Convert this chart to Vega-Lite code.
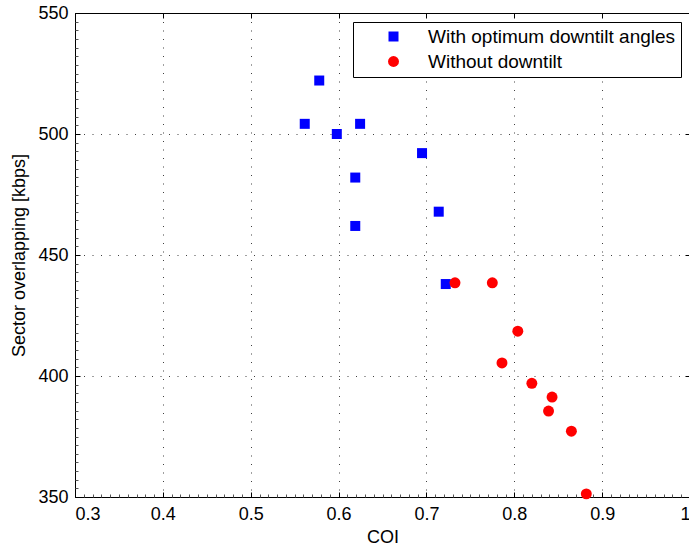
{
  "$schema": "https://vega.github.io/schema/vega-lite/v6.json",
  "width": 615,
  "height": 484,
  "autosize": {"type": "none"},
  "padding": {"left": 75, "top": 13, "right": 0, "bottom": 52},
  "background": "white",
  "config": {
    "font": "Liberation Sans",
    "view": {"stroke": "black", "strokeWidth": 1},
    "axis": {
      "labelFont": "Liberation Sans",
      "labelFontSize": 18,
      "labelColor": "black",
      "titleFont": "Liberation Sans",
      "titleFontSize": 18,
      "titleFontWeight": "normal",
      "titleColor": "black",
      "tickColor": "black",
      "tickSize": -5,
      "domain": false,
      "gridColor": "black",
      "gridDash": [1, 7.5],
      "gridOpacity": 0.75,
      "gridWidth": 1
    },
    "legend": {
      "orient": "none",
      "legendX": 278,
      "legendY": 9,
      "strokeColor": "black",
      "fillColor": "white",
      "padding": 5,
      "symbolOffset": 26,
      "labelOffset": 25,
      "labelFont": "Liberation Sans",
      "labelFontSize": 19,
      "labelColor": "black",
      "labelLimit": 400,
      "rowPadding": 5,
      "symbolStrokeWidth": 0
    }
  },
  "data": {
    "values": [
      {"series": "With optimum downtilt angles", "coi": 0.578, "overlap": 522.1},
      {"series": "With optimum downtilt angles", "coi": 0.5615, "overlap": 504.2},
      {"series": "With optimum downtilt angles", "coi": 0.598, "overlap": 500.0},
      {"series": "With optimum downtilt angles", "coi": 0.6245, "overlap": 504.2},
      {"series": "With optimum downtilt angles", "coi": 0.695, "overlap": 492.1},
      {"series": "With optimum downtilt angles", "coi": 0.619, "overlap": 482.0},
      {"series": "With optimum downtilt angles", "coi": 0.714, "overlap": 467.9},
      {"series": "With optimum downtilt angles", "coi": 0.619, "overlap": 462.0},
      {"series": "With optimum downtilt angles", "coi": 0.722, "overlap": 438.0},
      {"series": "Without downtilt", "coi": 0.7325, "overlap": 438.5},
      {"series": "Without downtilt", "coi": 0.775, "overlap": 438.5},
      {"series": "Without downtilt", "coi": 0.804, "overlap": 418.5},
      {"series": "Without downtilt", "coi": 0.786, "overlap": 405.4},
      {"series": "Without downtilt", "coi": 0.820, "overlap": 397.0},
      {"series": "Without downtilt", "coi": 0.843, "overlap": 391.3},
      {"series": "Without downtilt", "coi": 0.839, "overlap": 385.5},
      {"series": "Without downtilt", "coi": 0.865, "overlap": 377.2},
      {"series": "Without downtilt", "coi": 0.882, "overlap": 351.3}
    ]
  },
  "layer": [
    {
      "mark": {"type": "point", "filled": true, "opacity": 1},
      "encoding": {
        "x": {
          "field": "coi", "type": "quantitative",
          "scale": {"domain": [0.3, 1], "nice": false, "zero": false},
          "axis": {"title": "COI", "values": [0.3, 0.4, 0.5, 0.6, 0.7, 0.8, 0.9, 1], "labelExpr": "datum.value == 1 ? '1' : format(datum.value, '.1f')", "labelPadding": 13, "titlePadding": 5, "grid": true}
        },
        "y": {
          "field": "overlap", "type": "quantitative",
          "scale": {"domain": [350, 550], "nice": false, "zero": false},
          "axis": {"title": "Sector overlapping [kbps]", "values": [350, 400, 450, 500, 550], "labelPadding": 12, "titlePadding": 9, "grid": true}
        },
        "shape": {
          "field": "series", "type": "nominal",
          "scale": {"domain": ["With optimum downtilt angles", "Without downtilt"], "range": ["square", "circle"]},
          "legend": {"title": null}
        },
        "color": {
          "field": "series", "type": "nominal",
          "scale": {"domain": ["With optimum downtilt angles", "Without downtilt"], "range": ["#0000ff", "#ff0000"]},
          "legend": {"title": null}
        },
        "size": {
          "field": "series", "type": "nominal",
          "scale": {"domain": ["With optimum downtilt angles", "Without downtilt"], "range": [100, 120]},
          "legend": null
        }
      }
    },
    {
      "mark": {"type": "point", "opacity": 0},
      "encoding": {
        "x": {
          "field": "coi", "type": "quantitative",
          "axis": {"orient": "top", "title": null, "labels": false, "grid": false, "values": [0.3, 0.4, 0.5, 0.6, 0.7, 0.8, 0.9, 1]}
        },
        "y": {
          "field": "overlap", "type": "quantitative",
          "axis": {"orient": "right", "title": null, "labels": false, "grid": false, "values": [350, 400, 450, 500, 550]}
        }
      }
    },
    {
      "mark": {"type": "point", "opacity": 0},
      "encoding": {
        "x": {
          "field": "coi", "type": "quantitative",
          "axis": {"orient": "bottom", "title": null, "labels": false, "grid": false, "tickSize": -3, "tickColor": "#555",
            "values": [0.31, 0.32, 0.33, 0.34, 0.35, 0.36, 0.37, 0.38, 0.39, 0.41, 0.42, 0.43, 0.44, 0.45, 0.46, 0.47, 0.48, 0.49, 0.51, 0.52, 0.53, 0.54, 0.55, 0.56, 0.57, 0.58, 0.59, 0.61, 0.62, 0.63, 0.64, 0.65, 0.66, 0.67, 0.68, 0.69, 0.71, 0.72, 0.73, 0.74, 0.75, 0.76, 0.77, 0.78, 0.79, 0.81, 0.82, 0.83, 0.84, 0.85, 0.86, 0.87, 0.88, 0.89, 0.91, 0.92, 0.93, 0.94, 0.95, 0.96, 0.97, 0.98, 0.99]}
        },
        "y": {
          "field": "overlap", "type": "quantitative",
          "axis": {"orient": "left", "title": null, "labels": false, "grid": false, "tickSize": -3, "tickColor": "#555",
            "values": [353.57, 357.14, 360.71, 364.29, 367.86, 371.43, 375, 378.57, 382.14, 385.71, 389.29, 392.86, 396.43, 403.57, 407.14, 410.71, 414.29, 417.86, 421.43, 425, 428.57, 432.14, 435.71, 439.29, 442.86, 446.43, 453.57, 457.14, 460.71, 464.29, 467.86, 471.43, 475, 478.57, 482.14, 485.71, 489.29, 492.86, 496.43, 503.57, 507.14, 510.71, 514.29, 517.86, 521.43, 525, 528.57, 532.14, 535.71, 539.29, 542.86, 546.43]}
        }
      }
    }
  ],
  "resolve": {"axis": {"x": "independent", "y": "independent"}}
}
